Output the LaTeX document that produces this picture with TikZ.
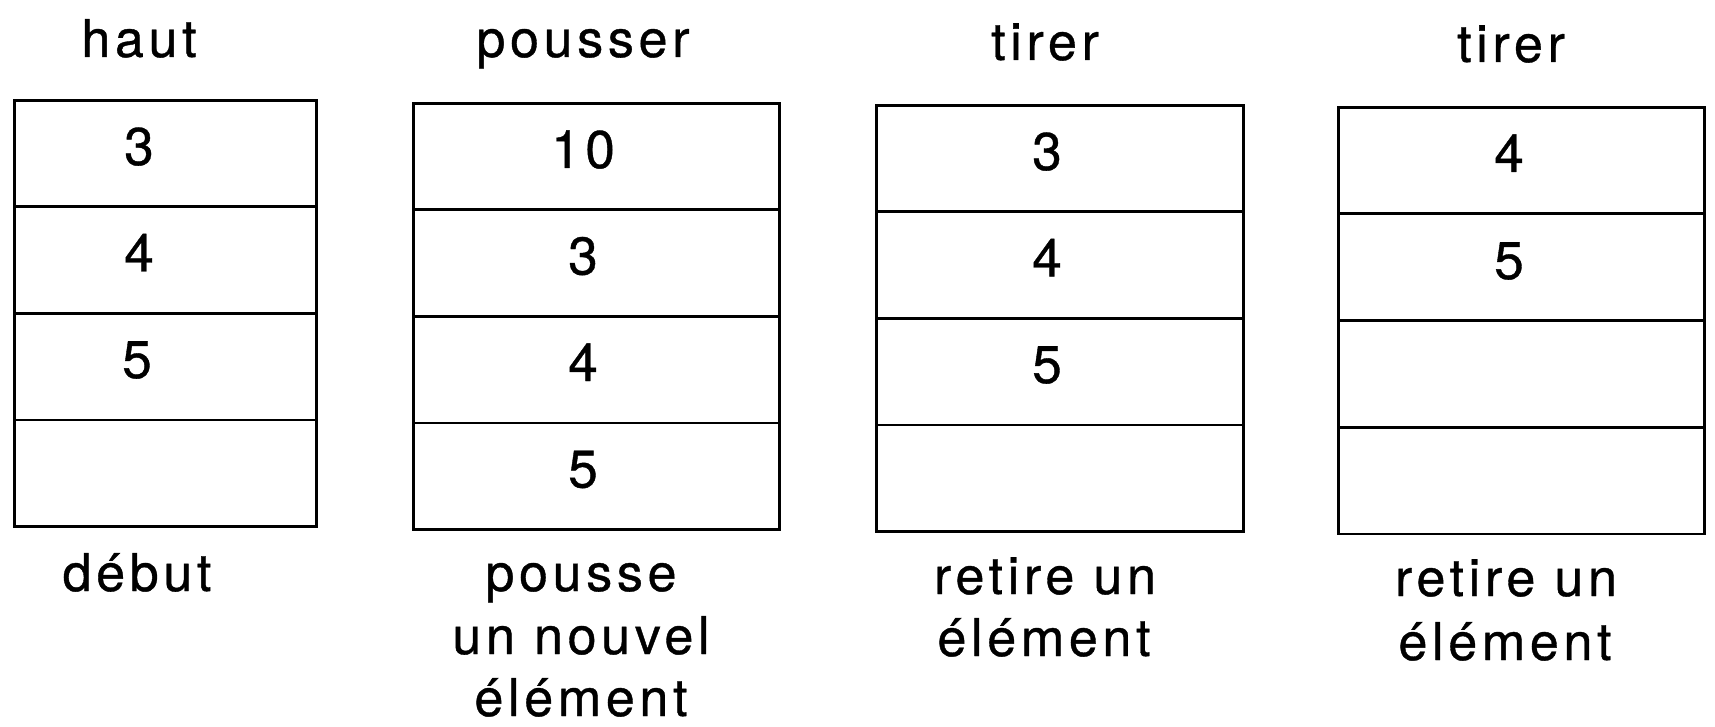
\documentclass[tikz,border=0pt]{standalone}
\usepackage{fontspec}
\setmainfont{TeX Gyre Heros}[LetterSpace=9,FakeBold=0.7]
\begin{document}
\begin{tikzpicture}[x=1pt,y=-1pt,
  cell/.style={draw, line width=2.6pt, rectangle, inner sep=0pt,
               minimum height=106.5pt, anchor=north west},
  val/.style={anchor=base, inner sep=0pt, font=\fontsize{53}{62}\selectfont},
  txt/.style={anchor=base, inner sep=0pt, font=\fontsize{52}{62}\selectfont}]
  % page frame
  \useasboundingbox (0,0) rectangle (1715,727);

  % stack 1 : start
  \foreach \r in {0,...,3}
    \node[cell, minimum width=302pt] (a\r) at (13,99+\r*106.5) {};
  \node[txt] (ah) at (139,57) {haut};
  \node[val] (av0) at (139,165) {3};
  \node[val] (av1) at (139,271.5) {4};
  \node[val] (av2) at (137,378) {5};
  \node[txt] (ab) at (137,591) {début};

  % stack 2 : push
  \foreach \r in {0,...,3}
    \node[cell, minimum width=366pt] (b\r) at (412,102+\r*106.5) {};
  \node[txt] (bh) at (583,57) {pousser};
  \node[val] (bv0) at (583,168) {10};
  \node[val] (bv1) at (583,274.5) {3};
  \node[val] (bv2) at (583,381) {4};
  \node[val] (bv3) at (583,487.5) {5};
  \node[txt] (bb1) at (581,591) {pousse};
  \node[txt] (bb2) at (581,654) {un nouvel};
  \node[txt] (bb3) at (581,716) {élément};

  % stack 3 : pop
  \foreach \r in {0,...,3}
    \node[cell, minimum width=367pt] (c\r) at (875,104+\r*106.5) {};
  \node[txt] (ch) at (1045,60) {tirer};
  \node[val] (cv0) at (1047,170) {3};
  \node[val] (cv1) at (1047,276.5) {4};
  \node[val] (cv2) at (1047,383) {5};
  \node[txt] (cb1) at (1045,594) {retire un};
  \node[txt] (cb2) at (1044,656) {élément};

  % stack 4 : pop again
  \foreach \r in {0,...,3}
    \node[cell, minimum width=366pt] (d\r) at (1337,106+\r*106.75) {};
  \node[txt] (dh) at (1511,62) {tirer};
  \node[val] (dv0) at (1509,172) {4};
  \node[val] (dv1) at (1509,279) {5};
  \node[txt] (db1) at (1506,596) {retire un};
  \node[txt] (db2) at (1505,660) {élément};
\end{tikzpicture}
\end{document}
